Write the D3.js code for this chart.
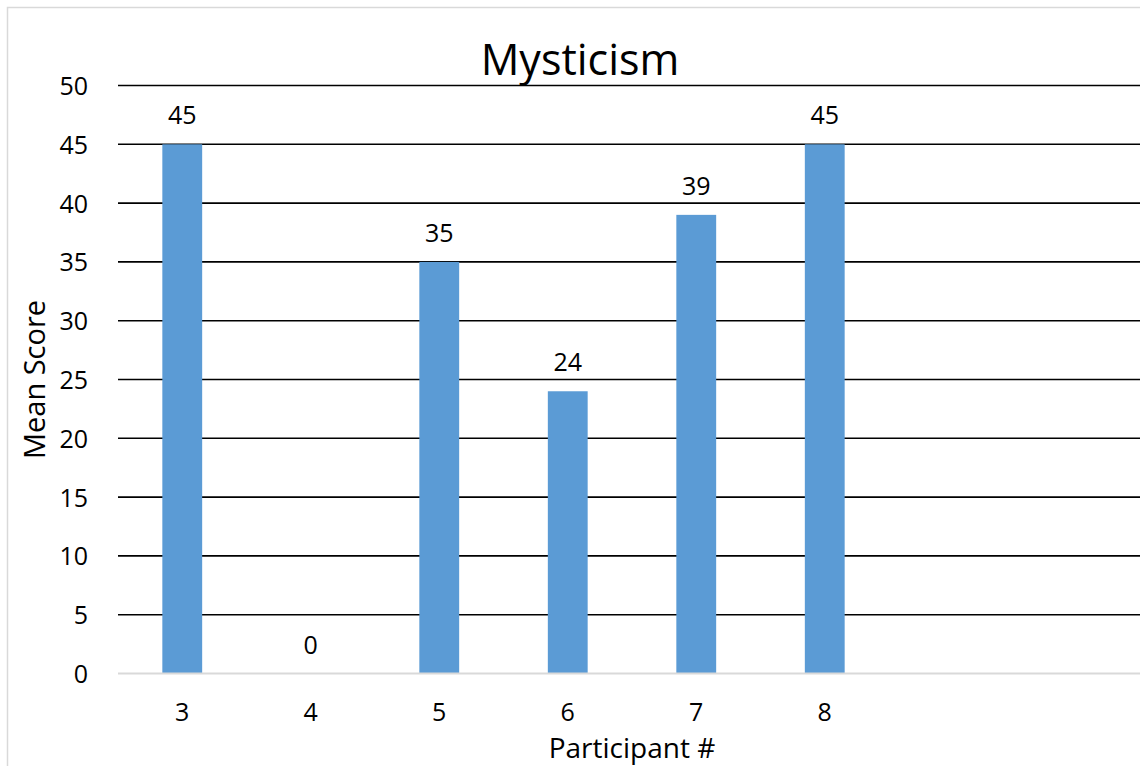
<!DOCTYPE html>
<html>
<head>
<meta charset="utf-8">
<script src="https://cdn.jsdelivr.net/npm/d3@7"></script>
<style>
  body { margin: 0; background: #fff; }
  svg { display: block; font-family: "Open Sans", "Noto Sans", sans-serif; }
</style>
</head>
<body>
<div id="chart"></div>
<script>
const width = 1140;
const height = 766;

// data
const categories = ["3", "4", "5", "6", "7", "8"];
const values = [45, 0, 35, 24, 39, 45];
const slotCount = 8; // two empty category slots on the right
const yTicks = [0, 5, 10, 15, 20, 25, 30, 35, 40, 45, 50];

const margin = { left: 118, right: 1146, top: 85.5, bottom: 673.5 };

const svg = d3.select('#chart')
  .append('svg')
  .attr('width', width)
  .attr('height', height);

// chart border
svg.append('rect')
  .attr('x', 7.5)
  .attr('y', 7.5)
  .attr('width', width + 20)
  .attr('height', height + 20)
  .attr('fill', 'none')
  .attr('stroke', '#d9d9d9')
  .attr('stroke-width', 1.5);

const x = d3.scaleBand()
  .domain(d3.range(slotCount))
  .range([margin.left, margin.right])
  .paddingInner(0.69)
  .paddingOuter(0.345);

const y = d3.scaleLinear()
  .domain([0, 50])
  .range([margin.bottom, margin.top]);

// gridlines
svg.append('g')
  .selectAll('line')
  .data(yTicks.filter(d => d > 0))
  .join('line')
  .attr('x1', margin.left)
  .attr('x2', width + 10)
  .attr('y1', d => y(d))
  .attr('y2', d => y(d))
  .attr('stroke', '#000')
  .attr('stroke-width', 1.6);

// y axis labels
const yAxis = svg.append('g')
  .attr('transform', 'translate(88,0)')
  .call(d3.axisLeft(y).tickValues(yTicks).tickSize(0).tickPadding(0));
yAxis.select('.domain').remove();
yAxis.selectAll('text')
  .attr('font-size', 25)
  .attr('font-family', '"Open Sans", sans-serif')
  .attr('fill', '#000')
  .attr('dy', '0.36em');

// bars
svg.append('g')
  .selectAll('rect')
  .data(values)
  .join('rect')
  .attr('x', (d, i) => x(i))
  .attr('width', x.bandwidth())
  .attr('y', d => y(d))
  .attr('height', d => y(0) - y(d))
  .attr('fill', '#5b9bd5');

// value labels
svg.append('g')
  .selectAll('text')
  .data(values)
  .join('text')
  .attr('x', (d, i) => x(i) + x.bandwidth() / 2)
  .attr('y', d => y(d) - 20)
  .attr('text-anchor', 'middle')
  .attr('font-size', 25)
  .attr('fill', '#000')
  .text(d => d);

// x axis
const xAxis = svg.append('g')
  .attr('transform', `translate(0,${y(0)})`)
  .call(d3.axisBottom(x).tickSize(0).tickPadding(0).tickFormat(i => categories[i] || ''));
xAxis.select('.domain')
  .attr('d', `M${margin.left},0H${width + 10}`)
  .attr('stroke', '#d9d9d9')
  .attr('stroke-width', 2);
xAxis.selectAll('text')
  .attr('font-size', 25)
  .attr('font-family', '"Open Sans", sans-serif')
  .attr('fill', '#000')
  .attr('dy', '0')
  .attr('y', 47);

// title
svg.append('text')
  .attr('x', 580)
  .attr('y', 75)
  .attr('text-anchor', 'middle')
  .attr('font-size', 43)
  .attr('fill', '#000')
  .text('Mysticism');

// axis titles
svg.append('text')
  .attr('x', (margin.left + margin.right) / 2)
  .attr('y', 757.5)
  .attr('text-anchor', 'middle')
  .attr('font-size', 28)
  .attr('fill', '#000')
  .text('Participant #');

svg.append('text')
  .attr('transform', `translate(45,${(margin.top + margin.bottom) / 2}) rotate(-90)`)
  .attr('text-anchor', 'middle')
  .attr('font-size', 29)
  .attr('fill', '#000')
  .text('Mean Score');
</script>
</body>
</html>
